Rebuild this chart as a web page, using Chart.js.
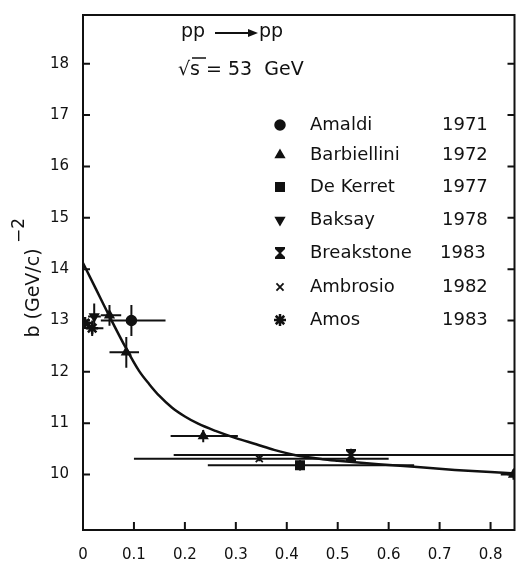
<!DOCTYPE html>
<html>
<head>
<meta charset="utf-8">
<script src="https://cdn.jsdelivr.net/npm/chart.js@4.4.1/dist/chart.umd.min.js"></script>
<style>
  html, body { margin: 0; padding: 0; background: #fff; }
  #wrap { width: 523px; height: 561px; }
</style>
</head>
<body>
<div id="wrap"><canvas id="slopeChart"></canvas></div>
<script>
// ticks
const xTicks = [0, 0.1, 0.2, 0.3, 0.4, 0.5, 0.6, 0.7, 0.8];
const yTicks = [10, 11, 12, 13, 14, 15, 16, 17, 18];

// fitted curve
const fitX = [0, 0.025, 0.05, 0.085, 0.11, 0.13, 0.15, 0.175, 0.2, 0.226, 0.26, 0.3, 0.34, 0.375, 0.42, 0.47, 0.5, 0.58, 0.65, 0.73, 0.8, 0.85];
const fitY = [14.12, 13.62, 13.12, 12.45, 12.02, 11.76, 11.53, 11.3, 11.13, 10.99, 10.85, 10.71, 10.59, 10.48, 10.37, 10.3, 10.27, 10.2, 10.15, 10.09, 10.05, 10.02];

// measurements: x = |t| (GeV/c)^2, y = slope b, with error bars
const amaldiX = [0.095];
const amaldiY = [13.0];
const amaldiXLo = [0.035];
const amaldiXHi = [0.162];
const amaldiErr = [0.3];

const barbX = [0.052, 0.085, 0.236, 0.845];
const barbY = [13.1, 12.38, 10.75, 10.0];
const barbXLo = [0.035, 0.052, 0.172, 0.82];
const barbXHi = [0.075, 0.11, 0.304, 0.87];
const barbErr = [0.2, 0.3, 0.12, 0.1];

const kerretX = [0.426];
const kerretY = [10.18];
const kerretXLo = [0.245];
const kerretXHi = [0.65];
const kerretErr = [0.1];

const baksayX = [0.022];
const baksayY = [13.08];
const baksayXLo = [0.01];
const baksayXHi = [0.035];
const baksayErr = [0.25];

const breakX = [0.526];
const breakY = [10.38];
const breakXLo = [0.178];
const breakXHi = [0.87];
const breakErr = [0.12];

const ambrX = [0.346];
const ambrY = [10.31];
const ambrXLo = [0.10];
const ambrXHi = [0.60];
const ambrErr = [0.05];

const amosX = [0.018, 0.004];
const amosY = [12.85, 12.95];
const amosXLo = [0.005, 0];
const amosXHi = [0.04, 0.015];
const amosErr = [0.15, 0.1];

const legendNames = ['Amaldi', 'Barbiellini', 'De Kerret', 'Baksay', 'Breakstone', 'Ambrosio', 'Amos'];
const legendYears = ['1971', '1972', '1977', '1978', '1983', '1982', '1983'];

const ink = '#111';

// hourglass marker for Breakstone
function hourglass(size) {
    const c = document.createElement('canvas');
    c.width = size; c.height = size;
    const g = c.getContext('2d');
    g.fillStyle = ink;
    g.fillRect(1, 0, size - 2, 2);
    g.fillRect(1, size - 2, size - 2, 2);
    g.beginPath();
    g.moveTo(1, 2); g.lineTo(size - 1, 2); g.lineTo(size / 2 + 1, size / 2);
    g.lineTo(size - 1, size - 2); g.lineTo(1, size - 2); g.lineTo(size / 2 - 1, size / 2);
    g.closePath();
    g.fill();
    return c;
}
const hourglassImg = hourglass(12);

function pts(xs, ys) {
    return xs.map((x, i) => ({ x: x, y: ys[i] }));
}

function series(label, xs, ys, lo, hi, err, style, extra) {
    return Object.assign({
        type: 'scatter',
        label: label,
        data: pts(xs, ys),
        xLo: lo,
        xHi: hi,
        yErr: err,
        pointStyle: style,
        pointRadius: 5,
        backgroundColor: ink,
        borderColor: ink,
        borderWidth: 1.5,
    }, extra || {});
}

const datasets = [
    {
        type: 'line',
        label: 'fit',
        data: pts(fitX, fitY),
        borderColor: ink,
        borderWidth: 2.5,
        pointRadius: 0,
        cubicInterpolationMode: 'monotone',
        fill: false,
    },
    series('Amaldi', amaldiX, amaldiY, amaldiXLo, amaldiXHi, amaldiErr, 'circle'),
    series('Barbiellini', barbX, barbY, barbXLo, barbXHi, barbErr, 'triangle'),
    series('De Kerret', kerretX, kerretY, kerretXLo, kerretXHi, kerretErr, 'rect', { pointRadius: 6 }),
    series('Baksay', baksayX, baksayY, baksayXLo, baksayXHi, baksayErr, 'triangle', { rotation: 180 }),
    series('Breakstone', breakX, breakY, breakXLo, breakXHi, breakErr, hourglassImg),
    series('Ambrosio', ambrX, ambrY, ambrXLo, ambrXHi, ambrErr, 'crossRot', { pointRadius: 5, borderWidth: 1.8 }),
    series('Amos', amosX, amosY, amosXLo, amosXHi, amosErr, 'star', { pointRadius: 6, borderWidth: 2.5 }),
];

const errorBars = {
    id: 'errorBars',
    beforeDatasetsDraw(chart) {
        const { ctx, chartArea: a, scales: { x, y } } = chart;
        ctx.save();
        ctx.beginPath();
        ctx.rect(a.left, a.top, a.right - a.left, a.bottom - a.top);
        ctx.clip();
        ctx.strokeStyle = ink;
        ctx.lineWidth = 2;
        chart.data.datasets.forEach(ds => {
            if (!ds.xLo) return;
            ds.data.forEach((p, i) => {
                const px = x.getPixelForValue(p.x);
                const py = y.getPixelForValue(p.y);
                ctx.beginPath();
                ctx.moveTo(x.getPixelForValue(ds.xLo[i]), py);
                ctx.lineTo(x.getPixelForValue(ds.xHi[i]), py);
                ctx.moveTo(px, y.getPixelForValue(p.y - ds.yErr[i]));
                ctx.lineTo(px, y.getPixelForValue(p.y + ds.yErr[i]));
                ctx.stroke();
            });
        });
        ctx.restore();
    },
};

const frameAndText = {
    id: 'frameAndText',
    afterDraw(chart) {
        const { ctx, chartArea: a, scales: { x, y } } = chart;
        ctx.save();
        ctx.strokeStyle = ink;
        ctx.lineWidth = 2;
        ctx.strokeRect(a.left, a.top, a.right - a.left, a.bottom - a.top);

        // inward ticks
        ctx.beginPath();
        yTicks.forEach(v => {
            const py = y.getPixelForValue(v);
            ctx.moveTo(a.left, py); ctx.lineTo(a.left + 7, py);
            ctx.moveTo(a.right, py); ctx.lineTo(a.right - 7, py);
        });
        xTicks.forEach(v => {
            const px = x.getPixelForValue(v);
            ctx.moveTo(px, a.bottom); ctx.lineTo(px, a.bottom - 8);
        });
        ctx.stroke();

        ctx.fillStyle = ink;
        ctx.textBaseline = 'middle';

        // reaction label
        ctx.font = '19px "DejaVu Sans"';
        ctx.fillText('pp', 181, 32);
        ctx.beginPath();
        ctx.moveTo(215, 33); ctx.lineTo(250, 33);
        ctx.stroke();
        ctx.beginPath();
        ctx.moveTo(258, 33); ctx.lineTo(248, 29); ctx.lineTo(248, 37); ctx.closePath();
        ctx.fill();
        ctx.fillText('pp', 259, 32);
        ctx.fillText('\u221As = 53  GeV', 178, 70);
        ctx.beginPath();
        ctx.moveTo(192, 58); ctx.lineTo(206, 58);
        ctx.lineWidth = 1.5;
        ctx.stroke();

        // legend
        const rowY = [125, 155, 187, 220, 253, 287, 320];
        const helpers = Chart.helpers;
        chart.data.datasets.slice(1).forEach((ds, i) => {
            const ry = rowY[i];
            ctx.fillStyle = ink;
            ctx.strokeStyle = ink;
            ctx.lineWidth = ds.borderWidth;
            helpers.drawPoint(ctx, {
                pointStyle: ds.pointStyle,
                radius: ds.pointRadius,
                rotation: ds.rotation || 0,
                borderWidth: ds.borderWidth,
            }, 280, ry);
            ctx.font = '18px "DejaVu Sans"';
            ctx.textAlign = 'left';
            ctx.fillText(legendNames[i], 310, ry);
            ctx.fillText(legendYears[i], i === 4 ? 440 : 442, ry);
        });

        // y axis title with superscript
        ctx.translate(34, 285);
        ctx.rotate(-Math.PI / 2);
        ctx.font = '19px "DejaVu Sans"';
        ctx.textAlign = 'center';
        ctx.fillText('b (GeV/c)', -8, 0);
        ctx.font = '17px "DejaVu Sans"';
        ctx.textAlign = 'left';
        ctx.fillText('\u22122', 42, -14);
        ctx.restore();
    },
};

new Chart(document.getElementById('slopeChart'), {
    data: { datasets: datasets },
    options: {
        responsive: true,
        maintainAspectRatio: false,
        animation: false,
        layout: { padding: { top: 8, right: 2, left: 0, bottom: 0 } },
        plugins: {
            legend: { display: false },
            tooltip: { enabled: false },
        },
        scales: {
            x: {
                type: 'linear',
                min: 0,
                max: 0.847,
                grid: { display: false },
                border: { display: false },
                afterFit: s => { s.height = 31; },
                afterBuildTicks: s => { s.ticks = xTicks.map(v => ({ value: v })); },
                ticks: {
                    color: ink,
                    padding: 8,
                    font: { family: 'DejaVu Sans', size: 15 },
                    callback: v => (v === 0 ? '0' : v.toFixed(1)),
                },
            },
            y: {
                type: 'linear',
                min: 8.92,
                max: 18.95,
                grid: { display: false },
                border: { display: false },
                afterFit: s => { s.width = 83; },
                afterBuildTicks: s => { s.ticks = yTicks.map(v => ({ value: v })); },
                ticks: {
                    color: ink,
                    padding: 6,
                    font: { family: 'DejaVu Sans', size: 15 },
                },
            },
        },
    },
    plugins: [errorBars, frameAndText],
});
</script>
</body>
</html>
